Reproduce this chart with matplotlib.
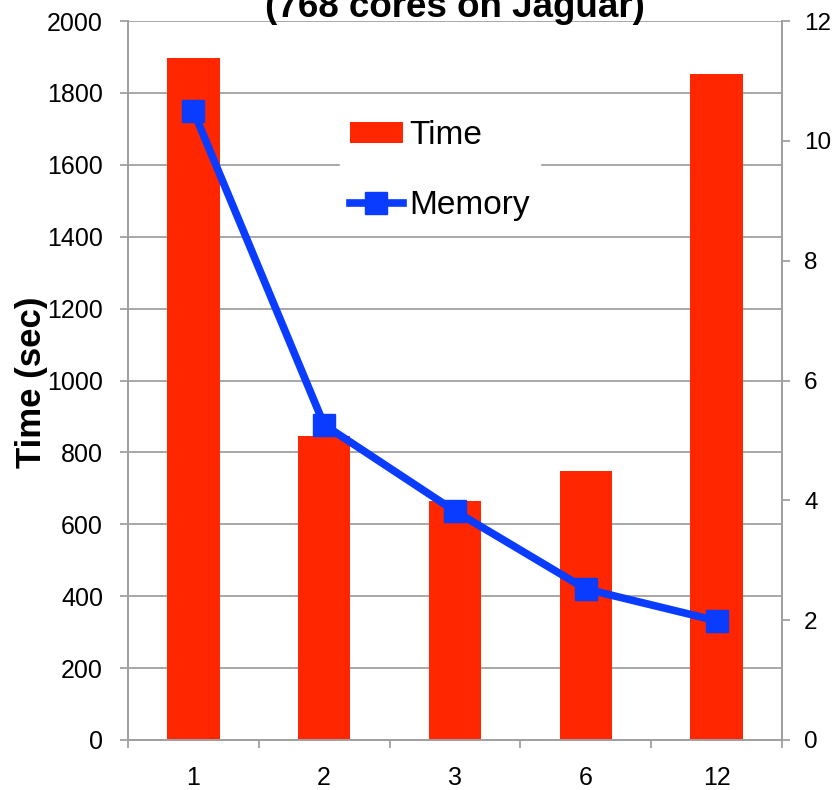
import matplotlib
matplotlib.use("Agg")
from matplotlib import pyplot as plt
import numpy as np

# runs on 768 cores
threads = ["1", "2", "3", "6", "12"]
time_sec = [1897, 846, 665, 748, 1852]
memory = [10.5, 5.26, 3.82, 2.52, 1.99]

red = '#FF2600'
blue = '#0A3CFF'
grey = '#A0A0A0'
font = 'Liberation Sans'

fig = plt.figure(figsize=(8.38, 7.90), dpi=100)
ax1 = fig.add_axes([0.1527, 0.0633, 0.7805, 0.9101])
ax2 = ax1.twinx()

x = np.arange(len(threads))
bars = ax1.bar(x, time_sec, width=0.4, color=red, zorder=2, label='Time')
line, = ax2.plot(x, memory, '-s', color=blue, lw=5.5, markersize=16, label='Memory', zorder=3)

ax1.set_xlim(-0.5, len(threads) - 0.5)
ax1.set_ylim(0, 2000)
ax2.set_ylim(0, 12)
ax1.set_yticks(range(0, 2001, 200))
ax2.set_yticks(range(0, 13, 2))

ax1.grid(axis='y', color=grey, lw=1.3, zorder=0)
ax1.set_axisbelow(True)

# category ticks sit between the bars
ax1.set_xticks(x)
ax1.set_xticklabels(threads, fontsize=18, family=font)
ax1.set_xticks(np.arange(-0.5, len(threads)), minor=True)
ax1.tick_params(axis='x', which='major', length=0, pad=19)
ax1.tick_params(axis='x', which='minor', length=6, width=1.3, color=grey, direction='out')
ax1.tick_params(axis='y', length=6, width=1.3, color=grey, pad=12, labelsize=18)
for lab in ax1.get_yticklabels():
    lab.set_family(font)
ax2.tick_params(axis='y', length=6, width=1.3, color=grey, pad=10, labelsize=17.5)
for lab in ax2.get_yticklabels():
    lab.set_family(font)

for ax in (ax1, ax2):
    for s in ax.spines.values():
        s.set_color(grey)
        s.set_linewidth(1.3)
    ax.spines['top'].set_visible(False)

ax1.set_ylabel('Time (sec)', fontsize=25, fontweight='bold', family=font)
ax1.yaxis.set_label_coords(-0.122, 0.497)

fig.text(0.543, 1 - 17 / 790, '(768 cores on Jaguar)', ha='center', va='baseline',
         fontsize=26.5, fontweight='bold', family=font)

leg = ax2.legend([bars, line], ['Time', 'Memory'], loc='center left',
                 bbox_to_anchor=(0.298, 0.792), frameon=True, fancybox=False,
                 edgecolor='white', facecolor='white', framealpha=1,
                 prop={'family': font, 'size': 24},
                 handlelength=1.6, handleheight=0.6, handletextpad=0.2,
                 labelspacing=1.15, borderpad=0.3)

fig.savefig('out.png', dpi=100)
